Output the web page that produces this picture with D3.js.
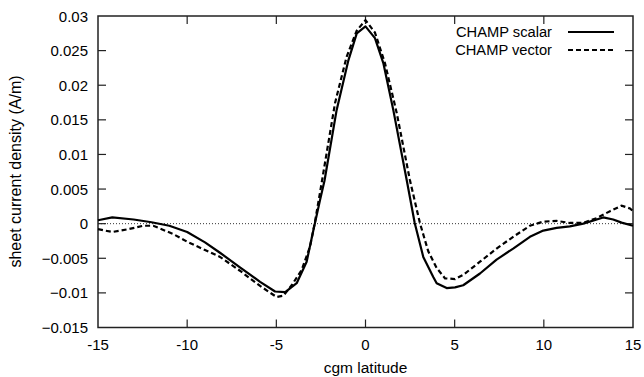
<!DOCTYPE html>
<html>
<head>
<meta charset="utf-8">
<script src="https://d3js.org/d3.v7.min.js"></script>
<style>
  body { margin: 0; background: #fff; }
  text { font-family: "Liberation Sans", Arial, sans-serif; fill: #000; }
</style>
</head>
<body>
<script>
// values
var scalarLat = [-15, -14.2, -13, -12, -11, -10, -9, -8.16, -7.04, -5.91, -5.07, -4.5, -3.86, -3.3, -2.92, -2.55, -2.3, -1.62, -0.96, -0.49, 0, 0.53, 1.0, 1.56, 2.31, 2.76, 3.24, 3.8, 3.99, 4.55, 5.02, 5.48, 6.42, 7.35, 8.28, 9.22, 9.97, 10.72, 11.46, 12.21, 13.33, 13.89, 14.36, 15];
var scalarVal = [0.0005, 0.0009, 0.0006, 0.0002, -0.0003, -0.0012, -0.0027, -0.0042, -0.0063, -0.0084, -0.0098, -0.0099, -0.0086, -0.0055, -0.0009, 0.0034, 0.0062, 0.0164, 0.0236, 0.0275, 0.0285, 0.0268, 0.0232, 0.0164, 0.0063, 0.0001, -0.0048, -0.0077, -0.0086, -0.0093, -0.0092, -0.0089, -0.0072, -0.0052, -0.0036, -0.0019, -0.001, -0.0006, -0.0004, 0, 0.0009, 0.0006, 0.00015, -0.0003];

var vectorLat = [-15, -14.2, -13.3, -12.45, -11.9, -10.78, -10, -9, -8.16, -7.04, -5.91, -4.98, -4.6, -4.14, -3.58, -3.11, -2.83, -2.55, -1.71, -1.06, -0.49, 0, 0.53, 1.09, 1.75, 2.49, 3.05, 3.52, 3.99, 4.46, 5.02, 5.48, 6.42, 7.35, 8.28, 9.22, 9.97, 10.72, 11.46, 12.21, 12.96, 13.71, 14.36, 14.83, 15];
var vectorVal = [-0.0008, -0.0012, -0.0008, -0.0003, -0.0003, -0.0015, -0.0026, -0.0038, -0.0048, -0.0068, -0.009, -0.0106, -0.0104, -0.0089, -0.0067, -0.0033, 0.0003, 0.0045, 0.0174, 0.0241, 0.0279, 0.0294, 0.0276, 0.0232, 0.016, 0.0063, 0.0001, -0.004, -0.0064, -0.0079, -0.008, -0.0074, -0.0055, -0.0036, -0.0019, -0.0003, 0.0003, 0.0004, 0.0001, 0.0001, 0.0008, 0.0018, 0.0026, 0.0022, 0.0018];

var xTicks = [-15, -10, -5, 0, 5, 10, 15];
var yTicks = [-0.015, -0.01, -0.005, 0, 0.005, 0.01, 0.015, 0.02, 0.025, 0.03];
var seriesNames = ["CHAMP scalar", "CHAMP vector"];

var W = 644, H = 377;
var plot = { left: 98, right: 633, top: 16, bottom: 327.5 };

var svg = d3.select("body").append("svg")
  .attr("width", W)
  .attr("height", H);

var x = d3.scaleLinear().domain([-15, 15]).range([plot.left, plot.right]);
var y = d3.scaleLinear().domain([-0.015, 0.03]).range([plot.bottom, plot.top]);

var axisColor = "#222";

// zero line
svg.append("line")
  .attr("x1", x(-15)).attr("x2", x(15))
  .attr("y1", y(0)).attr("y2", y(0))
  .attr("stroke", "#000")
  .attr("stroke-width", 0.8)
  .attr("stroke-dasharray", "1,2");

// ticks on all four sides, pointing in
var tickLen = 8;
xTicks.forEach(function(t) {
  if (t === -15 || t === 15) return;
  svg.append("line").attr("x1", x(t)).attr("x2", x(t))
    .attr("y1", plot.bottom).attr("y2", plot.bottom - tickLen)
    .attr("stroke", axisColor).attr("stroke-width", 1.2);
  svg.append("line").attr("x1", x(t)).attr("x2", x(t))
    .attr("y1", plot.top).attr("y2", plot.top + tickLen)
    .attr("stroke", axisColor).attr("stroke-width", 1.2);
});
yTicks.forEach(function(t) {
  if (t === -0.015 || t === 0.03) return;
  svg.append("line").attr("x1", plot.left).attr("x2", plot.left + tickLen)
    .attr("y1", y(t)).attr("y2", y(t))
    .attr("stroke", axisColor).attr("stroke-width", 1.2);
  svg.append("line").attr("x1", plot.right).attr("x2", plot.right - tickLen)
    .attr("y1", y(t)).attr("y2", y(t))
    .attr("stroke", axisColor).attr("stroke-width", 1.2);
});

// frame
svg.append("rect")
  .attr("x", plot.left).attr("y", plot.top)
  .attr("width", plot.right - plot.left)
  .attr("height", plot.bottom - plot.top)
  .attr("fill", "none")
  .attr("stroke", axisColor)
  .attr("stroke-width", 1.5);

// tick labels
svg.selectAll(".xl").data(xTicks).join("text")
  .attr("x", function(d) { return x(d); })
  .attr("y", 350)
  .attr("text-anchor", "middle")
  .attr("font-size", 15)
  .text(function(d) { return d; });

svg.selectAll(".yl").data(yTicks).join("text")
  .attr("x", 88)
  .attr("y", function(d) { return y(d) + 5.5; })
  .attr("text-anchor", "end")
  .attr("font-size", 15)
  .text(function(d) { return d3.format("")(+d.toFixed(3)); });

// axis titles
svg.append("text")
  .attr("x", x(0)).attr("y", 373)
  .attr("text-anchor", "middle")
  .attr("font-size", 15.5)
  .text("cgm latitude");

svg.append("text")
  .attr("transform", "translate(21,171.5) rotate(-90)")
  .attr("text-anchor", "middle")
  .attr("font-size", 16)
  .text("sheet current density (A/m)");

// curves
var line = d3.line()
  .x(function(d) { return x(d[0]); })
  .y(function(d) { return y(d[1]); });

var scalarPts = d3.zip(scalarLat, scalarVal);
var vectorPts = d3.zip(vectorLat, vectorVal);

svg.append("path")
  .attr("d", line(scalarPts))
  .attr("fill", "none")
  .attr("stroke", "#000")
  .attr("stroke-width", 2.2)
  .attr("stroke-linejoin", "round");

svg.append("path")
  .attr("d", line(vectorPts))
  .attr("fill", "none")
  .attr("stroke", "#000")
  .attr("stroke-width", 2.2)
  .attr("stroke-dasharray", "5,3");

// legend
var legY = [32, 50];
seriesNames.forEach(function(name, i) {
  svg.append("text")
    .attr("x", 552).attr("y", legY[i] + 5)
    .attr("text-anchor", "end")
    .attr("font-size", 14.7)
    .text(name);
  svg.append("line")
    .attr("x1", 568).attr("x2", 614)
    .attr("y1", legY[i]).attr("y2", legY[i])
    .attr("stroke", "#000")
    .attr("stroke-width", 2.2)
    .attr("stroke-dasharray", i === 1 ? "5,3" : null);
});
</script>
</body>
</html>
